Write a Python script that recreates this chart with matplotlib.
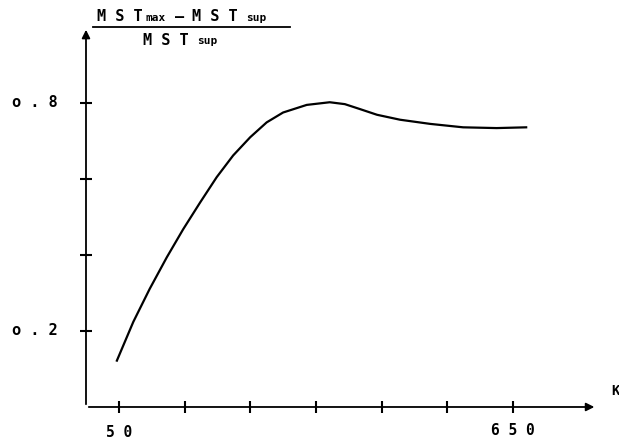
import matplotlib.pyplot as plt

# curve
temp = [47, 72, 97, 123, 148, 174, 199, 224, 250, 275, 300, 336, 371, 394, 417, 443, 478, 524,
        574, 625, 670]
ratio = [0.122, 0.224, 0.311, 0.394, 0.468, 0.539, 0.605, 0.662, 0.710, 0.749, 0.775, 0.795,
         0.802, 0.797, 0.784, 0.769, 0.756, 0.745, 0.736, 0.734, 0.736]

x_ticks = [50, 150, 250, 350, 450, 550, 650]
y_ticks = [0.2, 0.4, 0.6, 0.8]
x_labels = {50: "5 0", 650: "6 5 0"}
y_labels = {0.2: "o . 2", 0.8: "o . 8"}

fig = plt.figure(figsize=(6.19, 4.39), dpi=100)
ax = fig.add_axes([0, 0, 1, 1])
ax.set_xlim(-130.9, 811.3)
ax.set_ylim(-0.0816, 1.0737)
ax.axis("off")

# axes with arrows
ax.annotate("", xy=(0, 1.0), xytext=(0, 0),
            arrowprops=dict(arrowstyle="-|>", color="black", lw=1.3, mutation_scale=12))
ax.annotate("", xy=(778, 0), xytext=(0, 0),
            arrowprops=dict(arrowstyle="-|>", color="black", lw=1.3, mutation_scale=12))

ax.plot(x_ticks, [0] * len(x_ticks), ls="none", marker="|", ms=8, mew=1.5, color="black")
ax.plot([0] * len(y_ticks), y_ticks, ls="none", marker="_", ms=8, mew=1.5, color="black")

font = dict(family="DejaVu Sans Mono", fontweight="bold", color="black")
ax.text(50, -0.065, x_labels[50], ha="center", va="center", fontsize=10.5, **font)
ax.text(650, -0.06, x_labels[650], ha="center", va="center", fontsize=10.5, **font)
for v, s in y_labels.items():
    ax.text(-78, v + 0.005, s, ha="center", va="center", fontsize=11, **font)
ax.text(800, 0.045, "K", ha="left", va="center", fontsize=10, **font)

ax.plot(temp, ratio, color="black", lw=1.6, solid_joinstyle="round")

# fraction label at top left
ax.text(16.7, 1.029, "M S T", ha="left", va="center", fontsize=11, **font)
ax.text(91, 1.027, "max", ha="left", va="center", fontsize=8, **font)
ax.text(135, 1.029, "–", ha="left", va="center", fontsize=11, **font)
ax.text(161, 1.029, "M S T", ha="left", va="center", fontsize=11, **font)
ax.text(243, 1.027, "sup", ha="left", va="center", fontsize=8, **font)
ax.plot([10.7, 310.5], [1.0, 1.0], color="black", lw=1.3)
ax.text(87, 0.968, "M S T", ha="left", va="center", fontsize=11, **font)
ax.text(169, 0.966, "sup", ha="left", va="center", fontsize=8, **font)

fig.savefig("out.png", dpi=100)
